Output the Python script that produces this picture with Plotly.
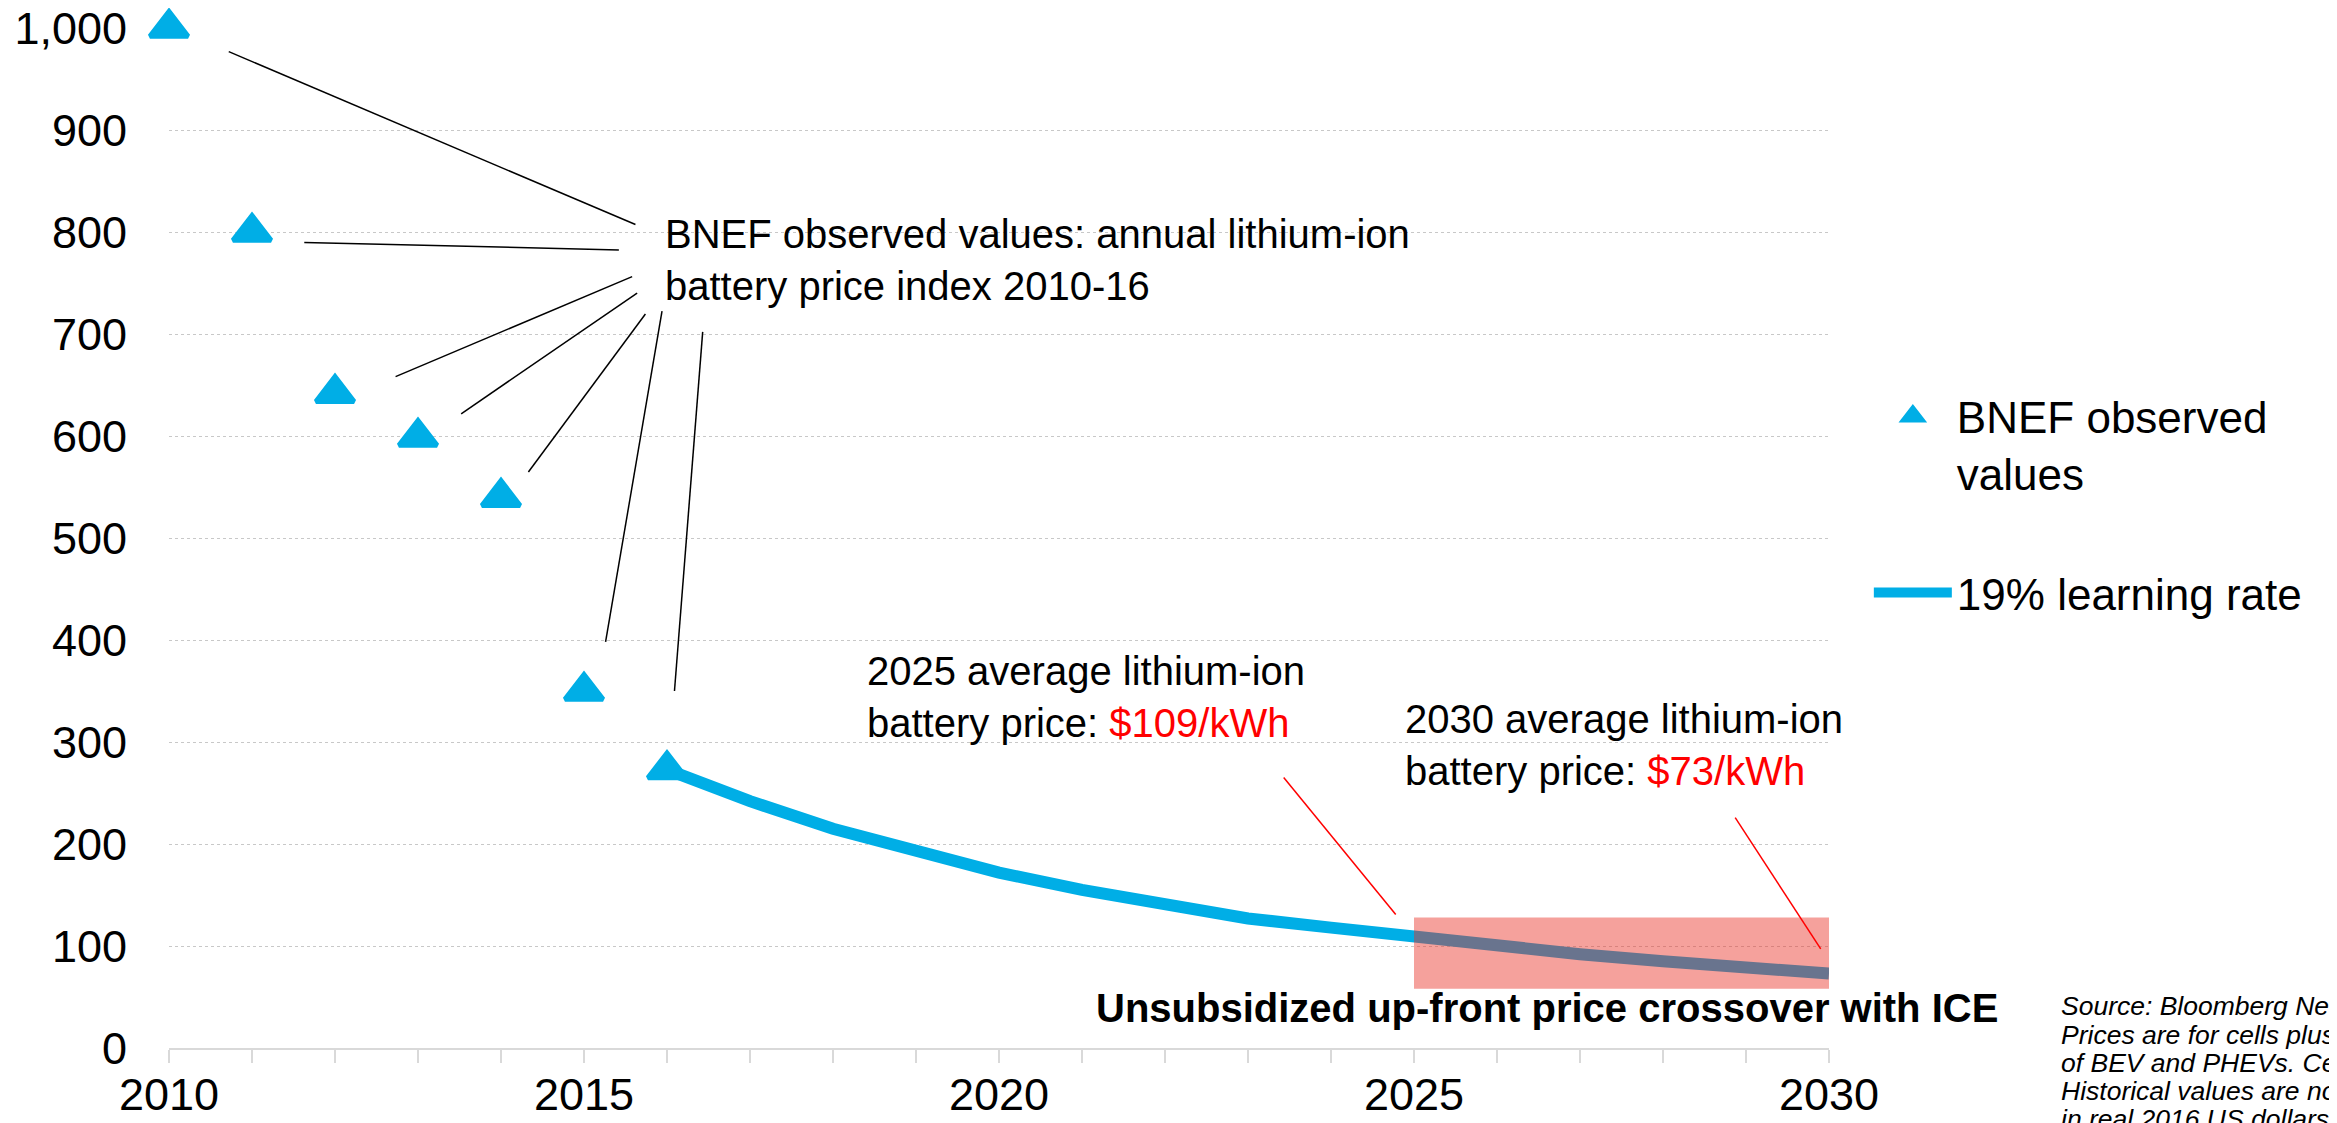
import plotly.graph_objects as go

# ---------------- data ----------------
obs_years = [2010, 2011, 2012, 2013, 2014, 2015, 2016]
obs_prices = [1000, 800, 642, 599, 540, 350, 273]

curve_years = [2016, 2017, 2018, 2019, 2020, 2021, 2022, 2023,
               2024, 2025, 2026, 2027, 2028, 2029, 2030]
curve_prices = [273, 242, 215, 193, 172, 155, 140, 127,
                118, 109, 100, 92, 85, 79, 73]

y_tick_values = [0, 100, 200, 300, 400, 500, 600, 700, 800, 900, 1000]
x_tick_values = [2010, 2015, 2020, 2025, 2030]

crossover_years = [2025, 2030]
crossover_band = [58, 128]

obs_name = "BNEF observed<br>values"
curve_name = "19% learning rate"
price_2025 = "$109/kWh"
price_2030 = "$73/kWh"

source_lines = [
    "Source: Bloomberg New Energy Finance. Note:",
    "Prices are for cells plus pack, and reflect",
    "of BEV and PHEVs. Cell and pack prices",
    "Historical values are nominal; forecasts",
    "in real 2016 US dollars.",
]

# ---------------- style ----------------
BLUE = "#00AEE6"
FONT = "Arial, Liberation Sans, sans-serif"
GRID = "#C8C8C8"
AXIS = "#D9D9D9"

fig = go.Figure()

fig.add_trace(go.Scatter(
    x=obs_years, y=obs_prices, mode="markers", name=obs_name,
    marker=dict(symbol="triangle-up", size=33, color=BLUE,
                line=dict(color=BLUE, width=5)),
    cliponaxis=False, legendgroup="a",
))
fig.add_trace(go.Scatter(
    x=curve_years, y=curve_prices, mode="lines", name=curve_name,
    line=dict(color=BLUE, width=12),
    cliponaxis=False, legendgroup="b",
))

# highlighted crossover band
fig.add_shape(type="rect", xref="x", yref="y",
              x0=crossover_years[0], x1=crossover_years[1],
              y0=crossover_band[0], y1=crossover_band[1],
              fillcolor="rgba(233,46,35,0.45)", line=dict(width=0),
              layer="above")

# leader lines (black) from the label to each observed point
black_leaders = [
    ((2010.72, 976.8), (2015.62, 807.3)),
    ((2011.63, 789.8), (2015.42, 782.4)),
    ((2012.73, 658.2), (2015.58, 756.2)),
    ((2013.52, 621.8), (2015.64, 740.1)),
    ((2014.33, 564.7), (2015.74, 719.6)),
    ((2015.26, 398.1), (2015.94, 722.5)),
    ((2016.09, 350.0), (2016.43, 702.1)),
]
for (xa, ya), (xb, yb) in black_leaders:
    fig.add_shape(type="line", xref="x", yref="y", x0=xa, y0=ya, x1=xb, y1=yb,
                  line=dict(color="black", width=1.5), layer="above")

red_leaders = [
    ((2023.43, 265.2), (2024.78, 130.8)),
    ((2028.87, 225.8), (2029.90, 97.2)),
]
for (xa, ya), (xb, yb) in red_leaders:
    fig.add_shape(type="line", xref="x", yref="y", x0=xa, y0=ya, x1=xb, y1=yb,
                  line=dict(color="#FF0000", width=1.5), layer="above")

ann_font = dict(family=FONT, size=40, color="black")

fig.add_annotation(x=2015.955, y=772.5, xref="x", yref="y", xanchor="left",
                   yanchor="middle", align="left", showarrow=False,
                   text="BNEF observed values: annual lithium-ion<br>battery price index 2010-16",
                   font=ann_font)
fig.add_annotation(x=2018.39, y=344, xref="x", yref="y", xanchor="left",
                   yanchor="middle", align="left", showarrow=False,
                   text="2025 average lithium-ion<br>battery price: "
                        f"<span style='color:#FF0000'>{price_2025}</span>",
                   font=ann_font)
fig.add_annotation(x=2024.87, y=297, xref="x", yref="y", xanchor="left",
                   yanchor="middle", align="left", showarrow=False,
                   text="2030 average lithium-ion<br>battery price: "
                        f"<span style='color:#FF0000'>{price_2030}</span>",
                   font=ann_font)
fig.add_annotation(x=2021.14, y=39.5, xref="x", yref="y", xanchor="left",
                   yanchor="middle", showarrow=False,
                   text="<b>Unsubsidized up-front price crossover with ICE</b>",
                   font=ann_font)

src_y = [0.0411, 0.0132, -0.0145, -0.0423, -0.0699]
for line, yy in zip(source_lines, src_y):
    fig.add_annotation(x=1.1384, y=yy, xref="paper", yref="paper",
                       xanchor="left", yanchor="middle", showarrow=False,
                       text=f"<i>{line}</i>",
                       font=dict(family=FONT, size=26.5, color="black"))

# the page body adds an 8px offset, so the figure is 8px smaller on each axis
fig.update_layout(
    width=2329, height=1115,
    margin=dict(l=161, r=508, t=20, b=75, pad=0),
    paper_bgcolor="white", plot_bgcolor="white",
    font=dict(family=FONT, size=44, color="black"),
    showlegend=True,
    legend=dict(x=1.024, y=0.654, xanchor="left", yanchor="top",
                font=dict(family=FONT, size=44, color="black"),
                itemwidth=78, valign="top", tracegroupgap=59,
                bgcolor="rgba(0,0,0,0)"),
)
fig.update_xaxes(
    range=[2010, 2030], tickvals=x_tick_values, ticktext=[str(v) for v in x_tick_values],
    showgrid=False, zeroline=False, automargin=False,
    showline=True, linecolor=AXIS, linewidth=2,
    ticks="outside", ticklen=13, tickcolor=AXIS, tickwidth=2,
    ticklabelstandoff=-7, ticklabeloverflow="allow",
    minor=dict(dtick=1, ticks="outside", ticklen=13, tickcolor=AXIS, tickwidth=2,
               showgrid=False),
    tickfont=dict(family=FONT, size=45, color="black"),
)
fig.update_yaxes(
    range=[0, 1000], tickvals=y_tick_values, tickformat=",",
    showgrid=True, gridcolor=GRID, gridwidth=1, griddash="dot",
    zeroline=False, showline=False, ticks="", automargin=False,
    ticklabelstandoff=41, ticklabeloverflow="allow",
    tickfont=dict(family=FONT, size=45, color="black"),
)

fig.write_html("out.html")
